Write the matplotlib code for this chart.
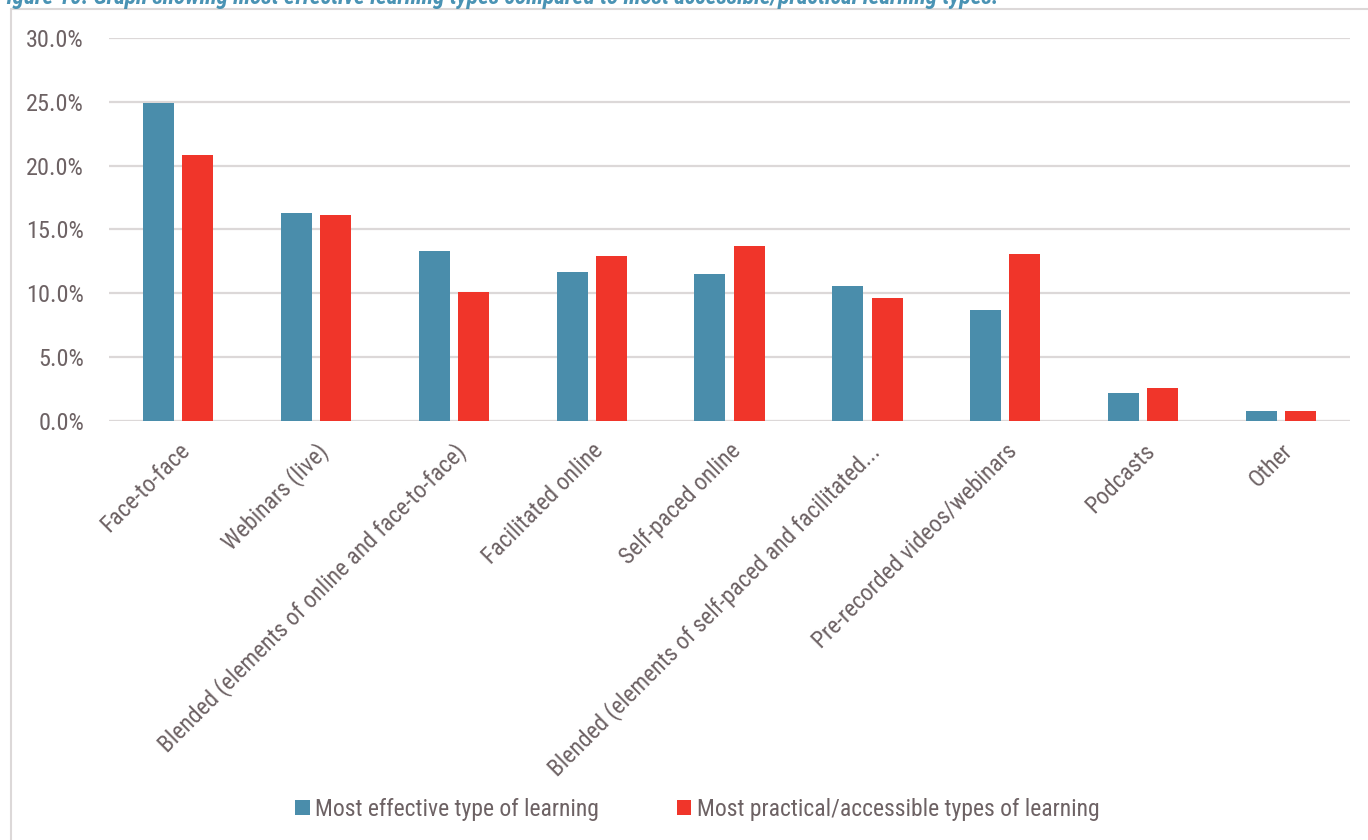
import matplotlib.pyplot as plt
import numpy as np
from matplotlib.patches import Rectangle
from matplotlib.ticker import FuncFormatter

categories = ["Face-to-face", "Webinars (live)",
              "Blended (elements of online and face-to-face)",
              "Facilitated online", "Self-paced online",
              "Blended (elements of self-paced and facilitated...",
              "Pre-recorded videos/webinars", "Podcasts", "Other"]
effective = [24.9, 16.3, 13.3, 11.7, 11.5, 10.6, 8.7, 2.2, 0.75]
practical = [20.8, 16.1, 10.1, 12.9, 13.7, 9.6, 13.1, 2.6, 0.75]
series_names = ["Most effective type of learning",
                "Most practical/accessible types of learning"]
yticks = [0, 5, 10, 15, 20, 25, 30]

blue = "#4a8dab"
red = "#f0352a"
txt = "#6d6264"
grid = "#dcd8d8"
font = ["Roboto Condensed", "Roboto", "DejaVu Sans"]

plt.rcParams["font.family"] = font

fig = plt.figure(figsize=(13.68, 8.4), dpi=100)
ax = fig.add_axes([0.0797, 0.4988, 0.9072, 0.456])

x = np.arange(len(categories))
w = 0.225
off = 0.142
ax.bar(x - off, effective, w, color=blue, label=series_names[0], zorder=3)
ax.bar(x + off, practical, w, color=red, label=series_names[1], zorder=3)

ax.set_xlim(-0.5, len(categories) - 0.5)
ax.set_ylim(0, 30)
ax.set_yticks(yticks)
ax.yaxis.set_major_formatter(FuncFormatter(lambda v, p: f"{v:.1f}%"))
ax.grid(axis="y", color=grid, lw=1.6, zorder=0)
for s in ax.spines.values():
    s.set_visible(False)
ax.axhline(0, color=grid, lw=2.2, zorder=2)

ax.tick_params(axis="y", length=0, pad=18, labelsize=17.5, labelcolor=txt)
ax.tick_params(axis="x", length=0, pad=13, labelsize=17, labelcolor=txt)
ax.set_xticks(x)
ax.set_xticklabels(categories, rotation=45, ha="right", rotation_mode="anchor")

leg = fig.legend(loc="center", bbox_to_anchor=(0.51, 0.036), ncol=2, frameon=False,
                 fontsize=17, handlelength=0.6, handleheight=0.6, handletextpad=0.25,
                 columnspacing=3.3, labelcolor=txt)

# outer frame of the chart area
fig.add_artist(Rectangle((11 / 1368, -0.1), 1.2, 1 - 9 / 840 + 0.1,
                         transform=fig.transFigure, fill=False,
                         edgecolor="#dcd8d8", lw=1.5))

fig.text(-0.003, 1 - 4 / 840,
         "Figure 10: Graph showing most effective learning types compared to most accessible/practical learning types.",
         color="#4a93b4", fontsize=16.8, fontweight="bold", fontstyle="italic",
         ha="left", va="baseline")

fig.savefig("out.png", dpi=100)
